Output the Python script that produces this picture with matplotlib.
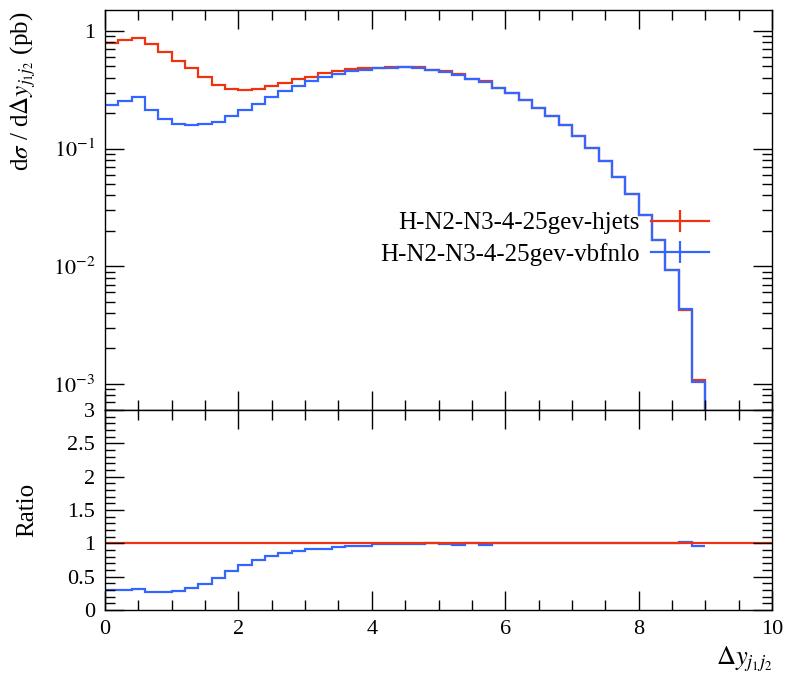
import numpy as np
import matplotlib
matplotlib.use("Agg")
from matplotlib import pyplot as plt
from matplotlib.lines import Line2D
from matplotlib.ticker import MultipleLocator, LogLocator, NullFormatter, FixedLocator

# binning of delta y_j1j2
bin_edges = np.linspace(0.0, 10.0, 51)

# dsigma/d(delta y) in pb
hjets = [0.785, 0.839, 0.877, 0.771, 0.659, 0.556, 0.488, 0.407, 0.350, 0.324,
         0.315, 0.320, 0.339, 0.360, 0.389, 0.409, 0.442, 0.457, 0.475, 0.485,
         0.488, 0.494, 0.497, 0.491, 0.466, 0.456, 0.431, 0.391, 0.376, 0.330,
         0.296, 0.259, 0.223, 0.190, 0.158, 0.128, 0.102, 0.0787, 0.0578, 0.0410,
         0.0273, 0.0168, 0.00932, 0.00421, 0.00108, 0.0, 0.0, 0.0, 0.0, 0.0]
vbfnlo = [0.235, 0.254, 0.273, 0.213, 0.178, 0.161, 0.158, 0.161, 0.168, 0.190,
          0.213, 0.240, 0.273, 0.307, 0.342, 0.374, 0.407, 0.431, 0.454, 0.469,
          0.482, 0.488, 0.491, 0.488, 0.466, 0.451, 0.423, 0.391, 0.369, 0.330,
          0.296, 0.259, 0.223, 0.190, 0.158, 0.128, 0.102, 0.0787, 0.0578, 0.0410,
          0.0273, 0.0168, 0.00932, 0.00430, 0.00104, 0.0, 0.0, 0.0, 0.0, 0.0]

labels = ["H-N2-N3-4-25gev-hjets", "H-N2-N3-4-25gev-vbfnlo"]
colors = ["#ee3311", "#3366ff"]

main_yticks = [1.0, 0.1, 0.01, 0.001]
main_yticklabels = ["1", r"$10^{-1}$", r"$10^{-2}$", r"$10^{-3}$"]
ratio_yticks = [0, 0.5, 1, 1.5, 2, 2.5, 3]
ratio_yticklabels = ["0", "0.5", "1", "1.5", "2", "2.5", "3"]
xticks = [0, 2, 4, 6, 8, 10]

plt.rcParams["font.family"] = ["Liberation Serif", "DejaVu Serif"]
plt.rcParams["mathtext.fontset"] = "stix"
plt.rcParams["font.size"] = 16

hjets = np.array(hjets)
vbfnlo = np.array(vbfnlo)
n_filled = int(np.count_nonzero(hjets))
ratio_ref = np.ones(len(hjets))
ratio_vbf = vbfnlo[:n_filled] / hjets[:n_filled]

fig = plt.figure(figsize=(7.86, 6.78), dpi=100)
ax = fig.add_axes([105 / 786, 1 - 410 / 678, 667 / 786, 400 / 678])
rax = fig.add_axes([105 / 786, 1 - 610 / 678, 667 / 786, 200 / 678], sharex=ax)

lw = 1.6
ax.stairs(hjets, bin_edges, baseline=None, color=colors[0], lw=lw)
ax.stairs(vbfnlo, bin_edges, baseline=None, color=colors[1], lw=lw)
ax.set_yscale("log")
ax.set_ylim(6.0e-4, 1.51)
ax.set_xlim(0, 10)
ax.yaxis.set_major_locator(FixedLocator(main_yticks))
ax.set_yticklabels(main_yticklabels)
ax.yaxis.set_minor_locator(LogLocator(base=10, subs=np.arange(2, 10)))
ax.yaxis.set_minor_formatter(NullFormatter())
ax.set_ylabel(r"d$\sigma$ / d$\Delta y_{j_1 j_2}$ (pb)", loc="top", fontsize=18)
plt.setp(ax.get_xticklabels(), visible=False)

handles = [Line2D([], [], color=c, lw=lw, marker="|", markersize=16, markeredgewidth=1.6)
           for c in colors]
ax.legend(handles, labels, loc="upper right", bbox_to_anchor=(0.905, 0.495),
          frameon=False, markerfirst=False, handlelength=2.3, handletextpad=0.45,
          borderpad=0, borderaxespad=0, labelspacing=0.35, fontsize=18)

rax.stairs(ratio_vbf, bin_edges[:n_filled + 1], baseline=None, color=colors[1], lw=lw)
rax.stairs(ratio_ref, bin_edges, baseline=None, color=colors[0], lw=lw)
rax.set_ylim(0, 3)
rax.set_yticks(ratio_yticks)
rax.set_yticklabels(ratio_yticklabels)
rax.yaxis.set_minor_locator(MultipleLocator(0.1))
rax.set_xticks(xticks)
rax.xaxis.set_minor_locator(MultipleLocator(0.5))
rax.set_ylabel("Ratio", fontsize=18)
rax.set_xlabel(r"$\Delta y_{j_1 j_2}$", loc="right", fontsize=19)

for a in (ax, rax):
    a.tick_params(which="both", direction="in", top=True, right=True, width=1.0, pad=7)
    a.tick_params(which="major", length=14)
    a.tick_params(which="minor", length=7)
    for s in a.spines.values():
        s.set_linewidth(1.0)

ax.yaxis.set_label_coords(-0.100, 0.995)
rax.yaxis.set_label_coords(-0.100, 0.5)

fig.savefig("out.png", dpi=100)
